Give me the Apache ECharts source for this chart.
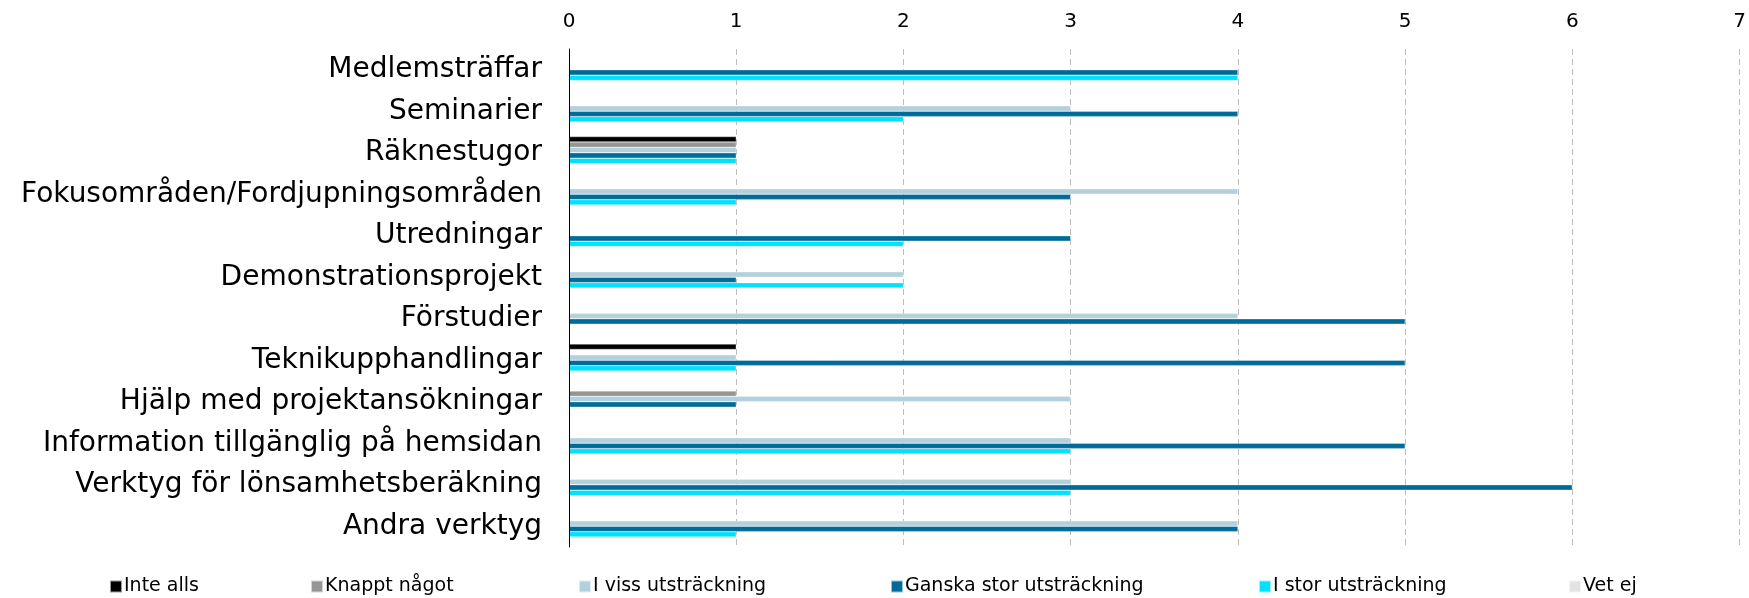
<!DOCTYPE html>
<html>
<head>
<meta charset="utf-8">
<script src="https://cdn.jsdelivr.net/npm/echarts@6/dist/echarts.min.js"></script>
<style>
html, body { margin: 0; padding: 0; background: #fff; }
#chart_box { width: 1749px; height: 598px; }
</style>
</head>
<body>
<div id="chart_box"></div>
<script>
/*kategorier*/
var categories = ['Medlemsträffar', 'Seminarier', 'Räknestugor', 'Fokusområden/Fordjupningsområden',
	'Utredningar', 'Demonstrationsprojekt', 'Förstudier', 'Teknikupphandlingar',
	'Hjälp med projektansökningar', 'Information tillgänglig på hemsidan',
	'Verktyg för lönsamhetsberäkning', 'Andra verktyg'];
/*serier*/
var inteAlls = [0, 0, 1, 0, 0, 0, 0, 1, 0, 0, 0, 0];
var knapptNagot = [0, 0, 1, 0, 0, 0, 0, 0, 1, 0, 0, 0];
var iVissUtstrackning = [0, 3, 1, 4, 0, 2, 4, 1, 3, 3, 3, 4];
var ganskaStor = [4, 4, 1, 3, 3, 1, 5, 5, 1, 5, 6, 4];
var iStorUtstrackning = [4, 2, 1, 1, 2, 2, 0, 1, 0, 3, 3, 1];
var vetEj = [0, 0, 0, 0, 0, 0, 0, 0, 0, 0, 0, 0];
/*x-axelns etiketter*/
var tickLabels = ['0', '1', '2', '3', '4', '5', '6', '7'];

var seriesNames = ['Inte alls', 'Knappt något', 'I viss utsträckning', 'Ganska stor utsträckning', 'I stor utsträckning', 'Vet ej'];
var seriesData = [inteAlls, knapptNagot, iVissUtstrackning, ganskaStor, iStorUtstrackning, vetEj];
var colors = ['#000000', '#959595', '#b3d1dc', '#006b98', '#00e1fe', '#e3e3e3'];
var legendLeft = [109, 310, 578, 890, 1258, 1568];

var myChart = echarts.init(document.getElementById('chart_box'));

var series = [];
var legends = [];
for (var i = 0; i < seriesNames.length; i++) {
	series.push({
		name: seriesNames[i],
		type: 'bar',
		data: seriesData[i],
		barGap: '0%',
		barCategoryGap: '22%',
		itemStyle: { color: colors[i], borderColor: 'rgba(255,255,255,0.6)', borderWidth: 0.5 },
		animation: false
	});
	legends.push({
		data: [seriesNames[i]],
		left: legendLeft[i],
		top: 577,
		itemWidth: 12,
		itemHeight: 12,
		icon: 'rect',
		padding: 0,
		textStyle: { fontFamily: 'DejaVu Sans', fontSize: 19, color: '#000', padding: [0, 0, 0, -3] }
	});
}

var option = {
	backgroundColor: '#fff',
	legend: legends,
	grid: { left: 569, right: 9, top: 49, bottom: 51 },
	xAxis: {
		type: 'value',
		position: 'top',
		min: 0,
		max: 7,
		interval: 1,
		axisLine: { show: false },
		axisTick: { show: false },
		axisLabel: {
			fontFamily: 'DejaVu Sans', fontSize: 20, color: '#000', margin: 17,
			formatter: function(v) { return tickLabels[v]; }
		},
		splitLine: { show: true, lineStyle: { color: '#bdbdbd', type: [6, 4], width: 1 } }
	},
	yAxis: {
		type: 'category',
		inverse: true,
		z: 5,
		data: categories,
		axisLine: { show: true, lineStyle: { color: '#000', width: 1 } },
		axisTick: { show: false },
		axisLabel: { fontFamily: 'DejaVu Sans', fontSize: 28, color: '#000', margin: 27 }
	},
	series: series
};
myChart.setOption(option);
</script>
</body>
</html>
